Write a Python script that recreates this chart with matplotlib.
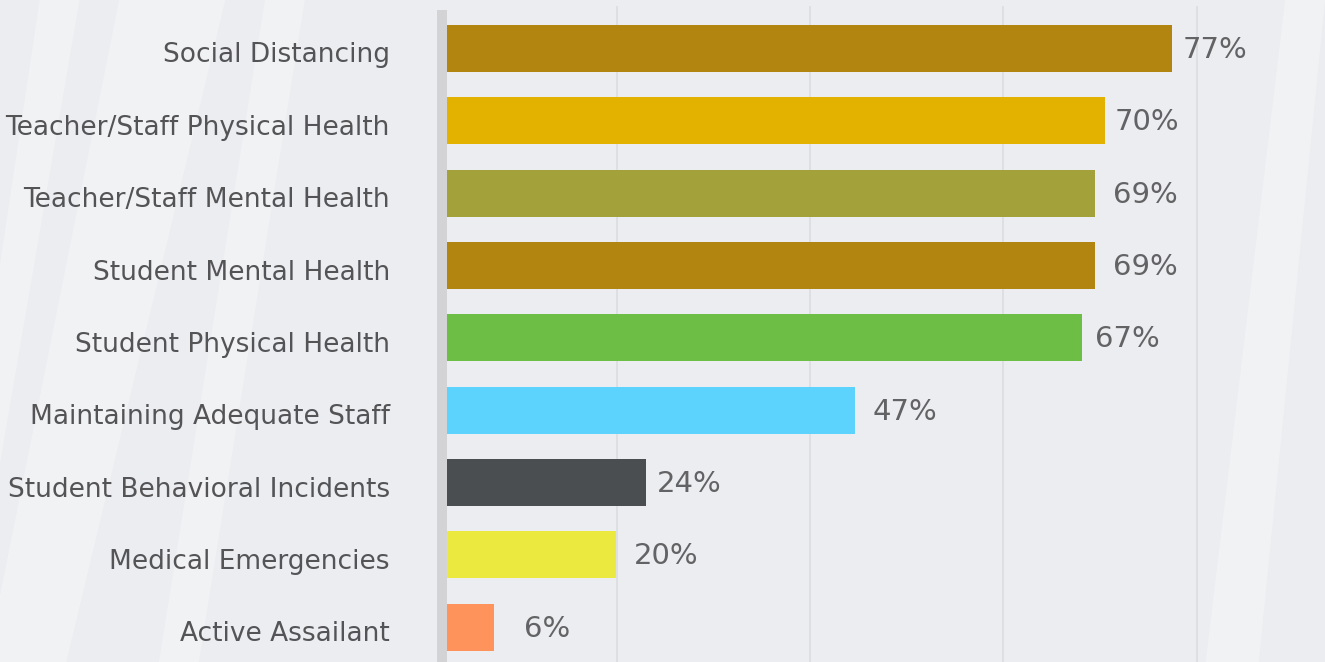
import numpy as np
import matplotlib
matplotlib.use('Agg')
import matplotlib.pyplot as plt
import matplotlib.transforms as mtransforms
from matplotlib.patches import Polygon

# data (top to bottom)
categories = ['Social Distancing', 'Teacher/Staff Physical Health', 'Teacher/Staff Mental Health',
              'Student Mental Health', 'Student Physical Health', 'Maintaining Adequate Staff',
              'Student Behavioral Incidents', 'Medical Emergencies', 'Active Assailant']
pct_labels = ['77%', '70%', '69%', '69%', '67%', '47%', '24%', '20%', '6%']
bar_lengths = [77.1, 70.0, 68.9, 68.9, 67.5, 43.4, 21.2, 18.0, 5.0]
colors = ['#b28510', '#e3b200', '#a3a23a', '#b28510', '#6cbe45',
          '#5bd3fd', '#4b4e50', '#ebe83f', '#fe935b']
label_gap_px = [12, 11, 20, 20, 15, 19, 12, 19, 31]
grid_x = [18.1, 38.65, 59.2, 79.75]

W, H = 1325, 662
px = 9.4  # pixels per percent
fig = plt.figure(figsize=(W / 100, H / 100), dpi=100)
fig.patch.set_facecolor('#ecedf0')

# soft diagonal streaks in background, on their own axes behind everything
bg = fig.add_axes([0, 0, 1, 1], zorder=-5)
bg.set_xlim(0, 1)
bg.set_ylim(0, 1)
bg.axis('off')
streaks = [
    [(0.0, 0.10), (0.09, 1.0), (0.17, 1.0), (0.05, 0.0), (0.0, 0.0)],
    [(0.12, 0.0), (0.20, 1.0), (0.23, 1.0), (0.15, 0.0)],
    [(0.0, 0.6), (0.03, 1.0), (0.06, 1.0), (0.0, 0.3)],
    [(0.91, 0.0), (0.97, 1.0), (1.0, 1.0), (0.95, 0.0)],
]
for s in streaks:
    bg.add_patch(Polygon(s, closed=True, facecolor='white', alpha=0.3, edgecolor='none'))

left_px = 437
ax = fig.add_axes([left_px / W, 0, 1 - left_px / W, (H - 6) / H], zorder=1)
ax.set_facecolor('none')
x0 = -(447 - left_px) / px
ax.set_xlim(x0, x0 + (W - left_px) / px)
y = np.arange(len(categories))
top_extra = (48.5 - 6) / 72.35
ax.set_ylim(8 + (H - 627.3) / 72.35, -top_extra)

for gx in grid_x:
    ax.axvline(gx, color='#dcdde0', lw=1.2, zorder=1)
ax.axvspan(x0, 0, ymin=0, ymax=(H - 10) / (H - 6), color='#d3d3d5', lw=0, zorder=2)

ax.barh(y, bar_lengths, height=0.65, color=colors, zorder=3)

for yi, v, lab, g in zip(y, bar_lengths, pct_labels, label_gap_px):
    ax.annotate(lab, (v, yi), xytext=(g * 0.72 - 1, -1), textcoords='offset points',
                ha='left', va='center', fontsize=21, color='#636365', zorder=4)

ax.set_yticks(y)
ax.set_yticklabels(categories, fontsize=19, color='#545457')
ax.tick_params(axis='y', length=0, pad=34)
shift = mtransforms.ScaledTranslation(0, -4 / 100, fig.dpi_scale_trans)
for t in ax.get_yticklabels():
    t.set_transform(t.get_transform() + shift)
ax.set_xticks([])
for sp in ax.spines.values():
    sp.set_visible(False)

fig.savefig('out.png', dpi=100, facecolor=fig.get_facecolor())
